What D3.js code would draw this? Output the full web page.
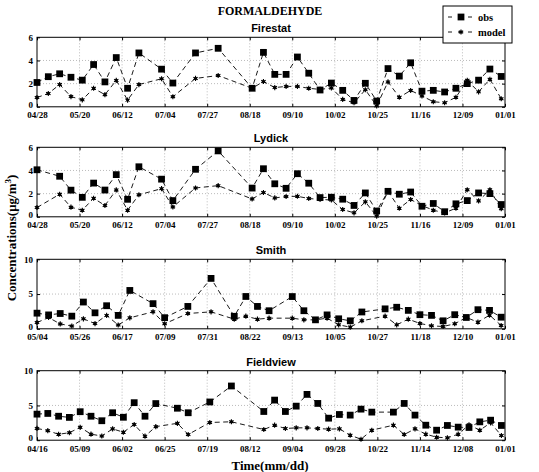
<!DOCTYPE html>
<html>
<head>
<meta charset="utf-8">
<script src="https://cdn.jsdelivr.net/npm/d3@7"></script>
<style>
  body { margin: 0; background: #fff; }
  svg { display: block; font-family: "Liberation Serif", "Times New Roman", serif; }
</style>
</head>
<body>
<div id="chart"></div>
<script>
// sampling every 6 days from the first axis date; null = no sample
const siteNames = ["Firestat", "Lydick", "Smith", "Fieldview"];
const spanDays = [248, 248, 242, 260];
const yMaxes = [6, 6, 10, 10];
const yTickSets = [[0, 2, 4, 6], [0, 2, 4, 6], [0, 5, 10], [0, 5, 10]];

const labelsA = ["04/28", "05/20", "06/12", "07/04", "07/27", "08/18", "09/10", "10/02", "10/25", "11/16", "12/09", "01/01"];
const labelsSmith = ["05/04", "05/26", "06/17", "07/09", "07/31", "08/22", "09/13", "10/05", "10/27", "11/18", "12/10", "01/01"];
const labelsField = ["04/16", "05/09", "06/02", "06/25", "07/19", "08/12", "09/04", "09/28", "10/22", "11/14", "12/08", "01/01"];

const firestatObs = [2.1, 2.6, 2.85, 2.55, 2.3, 3.65, 2.15, 4.25, 1.6, 4.65, null, 3.25, 2.05, null, 4.65, null, 5.05, null, null, 1.6, 4.7, 2.8, 2.8, 4.3, 2.9, 1.45, 2.05, 1.42, 0.55, 2.03, 0.5, 3.3, 2.65, 3.8, 1.35, 1.42, 1.28, 1.6, 2.0, 2.3, 3.26, 2.62];
const firestatModel = [0.8, 1.15, 1.92, 0.88, 0.6, 1.6, 1.05, 2.28, 0.58, 1.92, null, 2.42, 0.87, null, 2.45, null, 2.7, null, null, 1.6, 2.18, 1.66, 1.76, 1.76, 1.6, 1.5, 1.63, 0.64, 0.35, 1.47, 0.08, 2.15, 0.82, 1.41, 0.94, 0.44, 0.35, 0.82, 2.29, 1.29, 2.38, 0.69];

const lydickObs = [4.06, null, 3.5, 2.3, 1.68, 2.91, 2.31, 3.64, 1.51, 4.32, null, 3.25, 1.4, null, 4.1, null, 5.69, null, null, 2.48, 4.15, 2.85, 2.46, 3.72, 2.9, 1.66, 1.69, 1.52, 0.98, 2.06, 0.5, 2.2, 1.95, 2.14, 0.91, 1.15, 0.44, 1.12, 1.4, 2.06, 2.0, 1.06];
const lydickModel = [0.8, null, 1.95, 0.83, 0.57, 1.6, 0.98, 2.32, 0.57, 1.9, null, 2.43, 0.85, null, 2.49, null, 2.69, null, null, 1.54, 2.1, 1.63, 1.75, 1.77, 1.58, 1.5, 1.45, 0.63, 0.34, 1.29, 0.06, 2.2, 0.74, 1.49, 0.97, 0.57, 0.34, 0.74, 2.34, 1.37, 2.34, 0.69];

const smithObs = [2.25, 2.0, 2.2, 1.82, 3.85, 2.3, 3.32, 1.93, 5.52, null, 3.62, 1.6, null, 3.22, null, 7.25, null, 1.8, 4.65, 3.22, 2.6, null, 4.64, 2.6, 1.29, 2.0, 1.44, 1.15, 2.42, null, 2.87, 3.1, 2.65, 2.03, 1.93, 1.15, 2.03, 1.63, 2.75, 2.65, 1.67];
const smithModel = [0.9, 1.62, 0.7, 0.4, 1.43, 0.75, 1.93, 0.55, 1.58, null, 2.44, 0.72, null, 2.2, null, 2.44, null, 1.39, 1.82, 1.39, 1.53, null, 1.53, 1.29, 1.29, 1.53, 0.57, 0.24, 1.15, null, 1.82, 0.57, 1.39, 0.77, 0.43, 0.33, 0.72, 1.63, 0.96, 1.96, 0.48];

const fieldObs = [3.75, 3.85, 3.45, 3.28, 4.1, 3.45, 2.8, 3.95, 3.3, 5.4, 3.45, 5.27, null, 4.6, 3.95, null, 5.5, null, 7.8, null, null, 4.13, 5.77, 4.13, 4.9, 6.59, 5.29, 3.17, 3.7, 3.61, 4.47, 4.04, null, 4.04, 5.29, 3.61, 2.16, 1.44, 2.12, 1.88, 1.83, 2.64, 2.88, 2.12];
const fieldModel = [1.7, 1.37, 0.85, 1.08, 1.85, 0.87, 0.6, 1.63, 1.15, 2.26, 0.58, 1.95, null, 2.43, 0.82, null, 2.55, null, 2.65, null, null, 1.54, 2.16, 1.68, 1.78, 1.78, 1.68, 1.59, 1.63, 0.72, 0.14, 1.44, null, 2.16, 0.82, 1.63, 0.87, 0.43, 0.34, 0.87, 2.21, 1.44, 2.5, 0.67];

const tickLabelSets = [labelsA, labelsA, labelsSmith, labelsField];
const obsSets = [firestatObs, lydickObs, smithObs, fieldObs];
const modelSets = [firestatModel, lydickModel, smithModel, fieldModel];

const width = 539, height = 472;
const plotLeft = 37, plotRight = 505, plotH = 69.5;
const panelTops = [37.3, 147.3, 259.3, 370.7];
const step = 6;

const svg = d3.select("#chart").append("svg")
  .attr("width", width).attr("height", height);
svg.append("rect").attr("width", width).attr("height", height).attr("fill", "#fff");

const squareSym = d3.symbol().type(d3.symbolSquare).size(46);
const starSym = d3.symbol().type(d3.symbolAsterisk).size(18);

function toPoints(arr) {
  return arr.map((v, i) => ({ x: i * step, y: v })).filter((d) => d.y !== null);
}

function drawStar(sel) {
  sel.append("path").attr("d", starSym).attr("fill", "none")
    .attr("stroke", "#000").attr("stroke-width", 1.1);
  sel.append("circle").attr("r", 1.6).attr("fill", "#000");
}

siteNames.forEach((name, k) => {
  const top = panelTops[k];
  const bottom = top + plotH;
  const span = spanDays[k];
  const x = d3.scaleLinear().domain([0, span]).range([plotLeft, plotRight]);
  const y = d3.scaleLinear().domain([0, yMaxes[k]]).range([bottom, top]);
  const tv = d3.range(12).map((j) => (j * span) / 11);
  const labels = tickLabelSets[k];
  const g = svg.append("g");

  // grid
  g.selectAll(".vgrid").data(tv.slice(1, -1)).join("line")
    .attr("x1", (d) => x(d)).attr("x2", (d) => x(d))
    .attr("y1", top).attr("y2", bottom)
    .attr("stroke", "#aaa").attr("stroke-width", 0.8).attr("stroke-dasharray", "1,2");
  g.selectAll(".hgrid").data(yTickSets[k].slice(1, -1)).join("line")
    .attr("x1", plotLeft).attr("x2", plotRight)
    .attr("y1", (d) => y(d)).attr("y2", (d) => y(d))
    .attr("stroke", "#aaa").attr("stroke-width", 0.8).attr("stroke-dasharray", "1,2");

  // axes
  const xb = g.append("g").attr("transform", `translate(0,${bottom})`)
    .call(d3.axisBottom(x).tickValues(tv).tickFormat((d, i) => labels[i])
      .tickSizeInner(-3).tickSizeOuter(0).tickPadding(5));
  const xt = g.append("g").attr("transform", `translate(0,${top})`)
    .call(d3.axisTop(x).tickValues(tv).tickFormat("").tickSizeInner(-3).tickSizeOuter(0));
  const yl = g.append("g").attr("transform", `translate(${plotLeft},0)`)
    .call(d3.axisLeft(y).tickValues(yTickSets[k]).tickFormat(d3.format("d"))
      .tickSizeInner(-3).tickSizeOuter(0).tickPadding(4));
  const yr = g.append("g").attr("transform", `translate(${plotRight},0)`)
    .call(d3.axisRight(y).tickValues(yTickSets[k]).tickFormat("").tickSizeInner(-3).tickSizeOuter(0));
  [xb, xt, yl, yr].forEach((a) => {
    a.select(".domain").remove();
    a.selectAll("line").attr("stroke", "#000");
    a.selectAll("text").attr("font-family", "Liberation Serif, serif")
      .attr("font-weight", "bold").attr("font-size", 9).attr("fill", "#000");
  });
  // keep the zero label clear of the first date label
  yl.selectAll("text").filter((d) => d === 0).attr("dy", "0.05em");

  g.append("rect").attr("x", plotLeft).attr("y", top)
    .attr("width", plotRight - plotLeft).attr("height", plotH)
    .attr("fill", "none").attr("stroke", "#000").attr("stroke-width", 1);

  g.append("text").attr("x", (plotLeft + plotRight) / 2).attr("y", top - 5)
    .attr("text-anchor", "middle").attr("font-family", "Liberation Sans, Arial, sans-serif")
    .attr("font-weight", "bold").attr("font-size", 11).text(name);

  const line = d3.line().x((d) => x(d.x)).y((d) => y(d.y));
  const obsPts = toPoints(obsSets[k]);
  const modelPts = toPoints(modelSets[k]);

  g.append("path").datum(modelPts).attr("d", line).attr("fill", "none")
    .attr("stroke", "#000").attr("stroke-width", 0.9).attr("stroke-dasharray", "5,3.5");
  g.append("path").datum(obsPts).attr("d", line).attr("fill", "none")
    .attr("stroke", "#000").attr("stroke-width", 0.9).attr("stroke-dasharray", "5,3.5");

  g.selectAll(".star").data(modelPts).join("g")
    .attr("transform", (d) => `translate(${x(d.x)},${y(d.y)})`)
    .call(drawStar);
  g.selectAll(".sq").data(obsPts).join("path")
    .attr("transform", (d) => `translate(${x(d.x)},${y(d.y)})`)
    .attr("d", squareSym).attr("fill", "#000");
});

// title
svg.append("text").attr("x", 270).attr("y", 15).attr("text-anchor", "middle")
  .attr("font-weight", "bold").attr("font-size", 12).text("FORMALDEHYDE");

// axis titles
svg.append("text").attr("x", 270).attr("y", 470).attr("text-anchor", "middle")
  .attr("font-weight", "bold").attr("font-size", 13).text("Time(mm/dd)");
const yt = svg.append("text").attr("transform", "translate(16,238) rotate(-90)")
  .attr("text-anchor", "middle").attr("font-weight", "bold").attr("font-size", 13);
yt.append("tspan").text("Concentrations(μg/m");
yt.append("tspan").attr("baseline-shift", "super").attr("font-size", 9).text("3");
yt.append("tspan").text(")");

// legend
const lg = svg.append("g");
lg.append("rect").attr("x", 443).attr("y", 6).attr("width", 69).attr("height", 37)
  .attr("fill", "#fff").attr("stroke", "#000").attr("stroke-width", 1);
[["obs", 17], ["model", 32]].forEach(([lab, ly], i) => {
  lg.append("line").attr("x1", 448).attr("x2", 474).attr("y1", ly).attr("y2", ly)
    .attr("stroke", "#000").attr("stroke-width", 0.9).attr("stroke-dasharray", "4,6");
  const m = lg.append("g").attr("transform", `translate(461,${ly})`);
  if (i === 0) m.append("path").attr("d", squareSym).attr("fill", "#000");
  else drawStar(m);
  lg.append("text").attr("x", 478).attr("y", ly + 4).attr("font-weight", "bold")
    .attr("font-size", 10.5).text(lab);
});
</script>
</body>
</html>
